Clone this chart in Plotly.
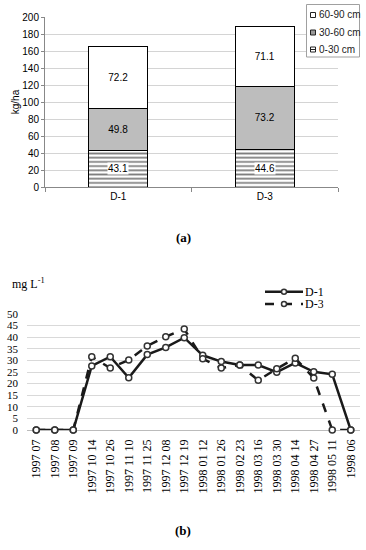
import plotly.graph_objects as go

# ---------- data (a) ----------
sites = ["D-1", "D-3"]
layer_names = ["0-30 cm", "30-60 cm", "60-90 cm"]
layer_0_30 = [43.1, 44.6]
layer_30_60 = [49.8, 73.2]
layer_60_90 = [72.2, 71.1]
a_yticks = list(range(0, 201, 20))

# ---------- data (b) ----------
dates = ["1997 07", "1997 08", "1997 09", "1997 10 14", "1997 10 26", "1997 11 10",
         "1997 11 25", "1997 12 08", "1997 12 19", "1998 01 12", "1998 01 26",
         "1998 02 23", "1998 03 16", "1998 03 30", "1998 04 14", "1998 04 27",
         "1998 05 11", "1998 06"]
d1 = [0, 0, 0, 27.6, 31.6, 22.5, 32.5, 35.6, 39.8, 32.2, 29.5, 28.0, 28.0, 24.9,
      28.9, 25.1, 24.0, 0]
d3 = [0, 0, 0, 31.6, 26.7, 30.2, 36.2, 40.2, 43.5, 30.7, 26.7, 28.0, 21.4, 26.4,
      30.9, 22.4, 0, 0]
series_names = ["D-1", "D-3"]

W, H = 366, 550
SANS = "Liberation Sans, Arial, sans-serif"
SERIF = "Liberation Serif, Times New Roman, serif"


def px_x(p):
    return p / W


def px_y(p):
    return 1 - p / H


fig = go.Figure()

# stacked bars
fig.add_trace(go.Bar(
    x=sites, y=layer_0_30, name=layer_names[0],
    marker=dict(color="white", line=dict(color="black", width=1),
                pattern=dict(shape="-", fgcolor="black", bgcolor="white",
                             size=4.2, solidity=0.42)),
    xaxis="x", yaxis="y", showlegend=False))
fig.add_trace(go.Bar(
    x=sites, y=layer_30_60, name=layer_names[1],
    text=[f"{v:.1f}" for v in layer_30_60], textposition="inside",
    insidetextanchor="middle", textfont=dict(color="black", size=10, family=SANS),
    marker=dict(color="#bdbdbd", line=dict(color="black", width=1)),
    xaxis="x", yaxis="y", showlegend=False))
fig.add_trace(go.Bar(
    x=sites, y=layer_60_90, name=layer_names[2],
    text=[f"{v:.1f}" for v in layer_60_90], textposition="inside",
    insidetextanchor="middle", textfont=dict(color="black", size=10, family=SANS),
    marker=dict(color="white", line=dict(color="black", width=1)),
    xaxis="x", yaxis="y", showlegend=False))

annotations = []
shapes = []
# labels for hatched layer with white background
for s, v in zip(sites, layer_0_30):
    annotations.append(dict(x=s, y=v / 2, xref="x", yref="y", text=f"{v:.1f}",
                            showarrow=False, bgcolor="white", borderpad=0,
                            font=dict(size=10, family=SANS, color="black")))

# lines
fig.add_trace(go.Scatter(
    x=dates, y=d1, name=series_names[0], mode="lines+markers",
    line=dict(color="#1a1a1a", width=2.5),
    marker=dict(symbol="circle", size=6, color="white",
                line=dict(color="#333333", width=1.5)),
    cliponaxis=False, xaxis="x2", yaxis="y2", showlegend=False))
fig.add_trace(go.Scatter(
    x=dates, y=d3, name=series_names[1], mode="lines+markers",
    line=dict(color="#1a1a1a", width=2.5, dash="dash"),
    marker=dict(symbol="circle", size=6, color="white",
                line=dict(color="#333333", width=1.5)),
    cliponaxis=False, xaxis="x2", yaxis="y2", showlegend=False))

# ---------- legend (a): drawn box ----------
shapes.append(dict(type="rect", xref="paper", yref="paper", layer="above",
                   x0=px_x(306.5), x1=px_x(359.5), y0=px_y(57), y1=px_y(4.5),
                   line=dict(color="#a0a0a0", width=1), fillcolor="white"))
leg_rows = [(15, layer_names[2], "white"), (32.5, layer_names[1], "#9a9a9a"),
            (49.5, layer_names[0], "white")]
for yc, name, fill in leg_rows:
    shapes.append(dict(type="rect", xref="paper", yref="paper", layer="above",
                       x0=px_x(310.5), x1=px_x(315.5), y0=px_y(yc + 2.5),
                       y1=px_y(yc - 2.5), line=dict(color="#222222", width=1),
                       fillcolor=fill))
    annotations.append(dict(x=px_x(317.3), y=px_y(yc), xref="paper", yref="paper",
                            xanchor="left", yanchor="middle", text=name,
                            showarrow=False,
                            font=dict(size=10, family=SANS, color="#222222")))
shapes.append(dict(type="line", xref="paper", yref="paper", layer="above",
                   x0=px_x(310.5), x1=px_x(315.5), y0=px_y(49.5), y1=px_y(49.5),
                   line=dict(color="#222222", width=1)))

# ---------- legend (b): drawn entries ----------
for yc, name, dash in [(291.7, series_names[0], "solid"),
                       (304, series_names[1], "dash")]:
    shapes.append(dict(type="line", xref="paper", yref="paper", layer="above",
                       x0=px_x(265), x1=px_x(303), y0=px_y(yc), y1=px_y(yc),
                       line=dict(color="#1a1a1a", width=2.5, dash=dash)))
    shapes.append(dict(type="circle", xref="paper", yref="paper", layer="above",
                       x0=px_x(281.5), x1=px_x(286.5), y0=px_y(yc + 2.5),
                       y1=px_y(yc - 2.5), line=dict(color="#333333", width=1.5),
                       fillcolor="white"))
    annotations.append(dict(x=px_x(304), y=px_y(yc), xref="paper", yref="paper",
                            xanchor="left", yanchor="middle", text=name,
                            showarrow=False, height=12, borderpad=0,
                            font=dict(size=12, family=SERIF, color="black")))

annotations += [
    dict(x=px_x(183), y=px_y(237), xref="paper", yref="paper", text="<b>(a)</b>",
         showarrow=False, font=dict(size=13, family=SERIF, color="black")),
    dict(x=px_x(183), y=px_y(540), xref="paper", yref="paper", text="<b>(b)</b>",
         showarrow=False, font=dict(size=13, family=SERIF, color="black")),
    dict(x=px_x(10), y=px_y(283), xref="paper", yref="paper", xanchor="left",
         text="mg L<sup>-1</sup>", showarrow=False,
         font=dict(size=12, family=SERIF, color="black")),
]

fig.update_layout(
    width=W, height=H, margin=dict(l=0, r=0, t=0, b=0, autoexpand=False),
    paper_bgcolor="white", plot_bgcolor="white",
    barmode="stack", bargap=0.6, showlegend=False,
    font=dict(family=SANS, size=10, color="black"),
    xaxis=dict(domain=[px_x(45), px_x(338)], anchor="y", range=[-0.5, 1.5],
               showline=True, linecolor="#888888", linewidth=1,
               ticks="outside", tickson="boundaries", ticklen=4, tickcolor="#888888",
               showgrid=False, tickfont=dict(size=10, family=SANS)),
    yaxis=dict(domain=[px_y(187), px_y(17)], anchor="x", range=[0, 200],
               tickvals=a_yticks, showline=True, linecolor="#888888",
               ticks="outside", ticklen=3, tickcolor="#888888",
               showgrid=True, gridcolor="#d4d4d4", zeroline=False,
               tickfont=dict(size=10, family=SANS),
               title=dict(text="kg/ha", font=dict(size=10, family=SANS), standoff=0)),
    xaxis2=dict(domain=[px_x(27), px_x(360)], anchor="y2", range=[-0.5, 17.5],
                type="category", showline=False, showgrid=False,
                tickangle=-90, ticklabelstandoff=6,
                tickfont=dict(size=12, family=SERIF)),
    yaxis2=dict(domain=[px_y(430), px_y(314)], anchor="x2", range=[0, 50],
                dtick=5, showline=False, showgrid=True, gridcolor="#d9d9d9",
                zeroline=True, zerolinecolor="#bbbbbb", zerolinewidth=1,
                ticklabelstandoff=8, tickfont=dict(size=11, family=SERIF)),
    shapes=shapes,
    annotations=annotations,
)

fig.write_html("out.html", config={"displayModeBar": False},
               post_script="document.body.style.margin='0';"
                           "document.body.style.overflow='hidden';")
